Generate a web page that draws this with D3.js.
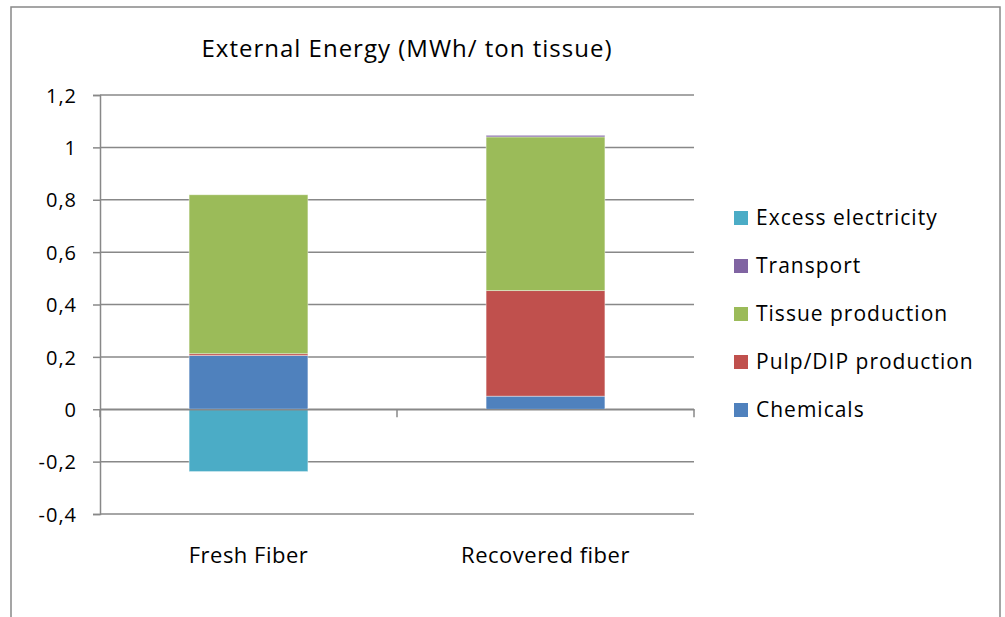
<!DOCTYPE html>
<html>
<head>
<meta charset="utf-8">
<script src="https://cdn.jsdelivr.net/npm/d3@7"></script>
<style>
  body { margin: 0; background: #fff; }
  svg text { font-family: "Open Sans", sans-serif; fill: #000; }
</style>
</head>
<body>
<div id="chart"></div>
<script>
// Data
const categories = ["Fresh Fiber", "Recovered fiber"];
const seriesNames = ["Chemicals", "Pulp/DIP production", "Tissue production", "Transport", "Excess electricity"];
const chemicals = [0.205, 0.05];
const pulpDip = [0.007, 0.403];
const tissue = [0.607, 0.587];
const transport = [0, 0.006];
const excessElectricity = [-0.238, 0];
const yTicks = [-0.4, -0.2, 0, 0.2, 0.4, 0.6, 0.8, 1, 1.2];
const colors = ["#4F81BD", "#C0504D", "#9BBB59", "#8064A2", "#4BACC6"];

// legend order, top to bottom
const legendOrder = ["Excess electricity", "Transport", "Tissue production", "Pulp/DIP production", "Chemicals"];

const rows = categories.map((c, i) => ({
    category: c,
    "Chemicals": chemicals[i],
    "Pulp/DIP production": pulpDip[i],
    "Tissue production": tissue[i],
    "Transport": transport[i],
    "Excess electricity": excessElectricity[i]
}));

const width = 1005, height = 617;
const plot = { left: 100, right: 694, top: 95, bottom: 514 };

const svg = d3.select("#chart")
    .append("svg")
    .attr("width", width)
    .attr("height", height);

// Outer chart border (bottom runs off the picture)
svg.append("rect")
    .attr("x", 11)
    .attr("y", 7)
    .attr("width", 989)
    .attr("height", 640)
    .attr("fill", "none")
    .attr("stroke", "#888")
    .attr("stroke-width", 1.5);

const x = d3.scaleBand()
    .domain(categories)
    .range([plot.left, plot.right])
    .paddingInner(0.6)
    .paddingOuter(0.3);

const y = d3.scaleLinear()
    .domain([-0.4, 1.2])
    .range([plot.bottom, plot.top]);

const color = d3.scaleOrdinal().domain(seriesNames).range(colors);

// Y axis with comma decimals
const yAxis = svg.append("g")
    .attr("transform", `translate(${plot.left},0)`)
    .call(d3.axisLeft(y)
        .tickValues(yTicks)
        .tickSize(7)
        .tickPadding(16)
        .tickFormat(d => String(d).replace(".", ",")));
yAxis.select(".domain").attr("stroke", "#888").attr("stroke-width", 1.5);
yAxis.selectAll(".tick line").attr("stroke", "#888").attr("stroke-width", 1.5);
yAxis.selectAll(".tick text")
    .style("font-size", "20px")
    .style("letter-spacing", "1px")
    .attr("dy", "0.36em");

// Horizontal gridlines
svg.append("g")
    .selectAll("line")
    .data(yTicks)
    .enter().append("line")
    .attr("x1", plot.left)
    .attr("x2", plot.right)
    .attr("y1", d => y(d))
    .attr("y2", d => y(d))
    .attr("stroke", "#888")
    .attr("stroke-width", 1.5);

// Stacked bars
const stack = d3.stack()
    .keys(seriesNames)
    .offset(d3.stackOffsetDiverging);
const stacked = stack(rows);

svg.append("g")
    .selectAll("g")
    .data(stacked)
    .enter().append("g")
    .attr("fill", d => color(d.key))
    .selectAll("rect")
    .data(d => d)
    .enter().append("rect")
    .attr("x", d => x(d.data.category))
    .attr("y", d => y(d[1]))
    .attr("width", x.bandwidth())
    .attr("height", d => y(d[0]) - y(d[1]))
    .attr("stroke", "rgba(255,255,255,0.5)")
    .attr("stroke-width", 0.8);

// Category axis sits on the zero line
const xAxis = svg.append("g")
    .attr("transform", `translate(0,${y(0)})`)
    .call(d3.axisBottom(x).tickSize(0).tickFormat(""));
xAxis.select(".domain").attr("stroke", "#888").attr("stroke-width", 1.5);
// Excel puts tick marks between categories
xAxis.selectAll(".divider")
    .data([plot.left, (plot.left + plot.right) / 2, plot.right])
    .enter().append("line")
    .attr("x1", d => d)
    .attr("x2", d => d)
    .attr("y1", 0)
    .attr("y2", 8)
    .attr("stroke", "#888")
    .attr("stroke-width", 1.5);

// Category labels below the plot
svg.append("g")
    .selectAll("text")
    .data(categories)
    .enter().append("text")
    .attr("x", d => x(d) + x.bandwidth() / 2)
    .attr("y", 563)
    .attr("text-anchor", "middle")
    .style("font-size", "22px")
    .style("letter-spacing", "0.5px")
    .text(d => d);

// Title
svg.append("text")
    .attr("x", 407)
    .attr("y", 57)
    .attr("text-anchor", "middle")
    .style("font-size", "24px")
    .style("letter-spacing", "1px")
    .text("External Energy (MWh/ ton tissue)");

// Legend
const legend = svg.append("g")
    .selectAll("g")
    .data(legendOrder)
    .enter().append("g")
    .attr("transform", (d, i) => `translate(734,${218 + i * 48})`);

legend.append("rect")
    .attr("x", 0)
    .attr("y", -7)
    .attr("width", 14)
    .attr("height", 14)
    .attr("fill", d => color(d));

legend.append("text")
    .attr("x", 22)
    .attr("y", 0)
    .attr("dy", "0.35em")
    .style("font-size", "21px")
    .style("letter-spacing", "1px")
    .text(d => d);
</script>
</body>
</html>
